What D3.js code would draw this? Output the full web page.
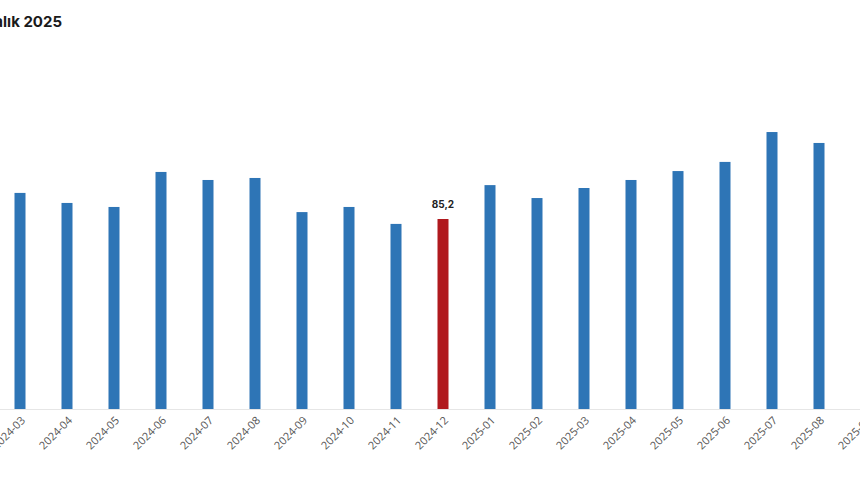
<!DOCTYPE html>
<html><head><meta charset="utf-8">
<script src="https://cdn.jsdelivr.net/npm/d3@7"></script>
<style>body{margin:0;background:#fff;overflow:hidden}</style>
</head><body><svg width="860" height="504"></svg>
<script>
const categories=["2024-03","2024-04","2024-05","2024-06","2024-07","2024-08","2024-09","2024-10","2024-11","2024-12","2025-01","2025-02","2025-03","2025-04","2025-05","2025-06","2025-07","2025-08","2025-09"];
const values=[96.9,92.4,90.6,106.3,102.7,103.6,88.3,90.6,83.0,85.2,100.4,94.6,99.1,102.7,106.7,110.8,124.2,119.3,112.0];
const highlight="2024-12";
const title="Aralık 2025";
const svg=d3.select("svg");
const x=d3.scalePoint().domain(categories).range([20,866]);
const y=d3.scaleLinear().domain([0,100]).range([409,186]);
svg.append("line").attr("x1",0).attr("x2",860).attr("y1",y(0)+0.5).attr("y2",y(0)+0.5).attr("stroke","#e6e6e6");
const bw=11;
svg.selectAll("rect.b").data(categories).join("rect")
 .attr("x",d=>x(d)-bw/2).attr("width",bw)
 .attr("y",(d,i)=>y(values[i])).attr("height",(d,i)=>y(0)-y(values[i]))
 .attr("fill",d=>d===highlight?"#b0191e":"#2e75b6");
const hi=categories.indexOf(highlight);
svg.append("text").attr("x",x(highlight)).attr("y",y(values[hi])-11)
 .attr("text-anchor","middle").attr("font-family","Inter, sans-serif").attr("font-size",10).attr("font-weight",700).attr("fill","#222")
 .text(String(values[hi]).replace(".",","));
svg.selectAll("text.l").data(categories).join("text")
 .attr("transform",d=>`translate(${x(d)+6},${y(0)+12}) rotate(-45)`)
 .attr("text-anchor","end").attr("font-family","Open Sans, sans-serif").attr("font-size",11).attr("fill","#555").text(d=>d);
svg.append("text").attr("x",62).attr("y",27).attr("text-anchor","end")
 .attr("font-family","Inter, sans-serif").attr("font-size",15).attr("font-weight",700).attr("fill","#1a1a1a").text(title);
</script></body></html>
